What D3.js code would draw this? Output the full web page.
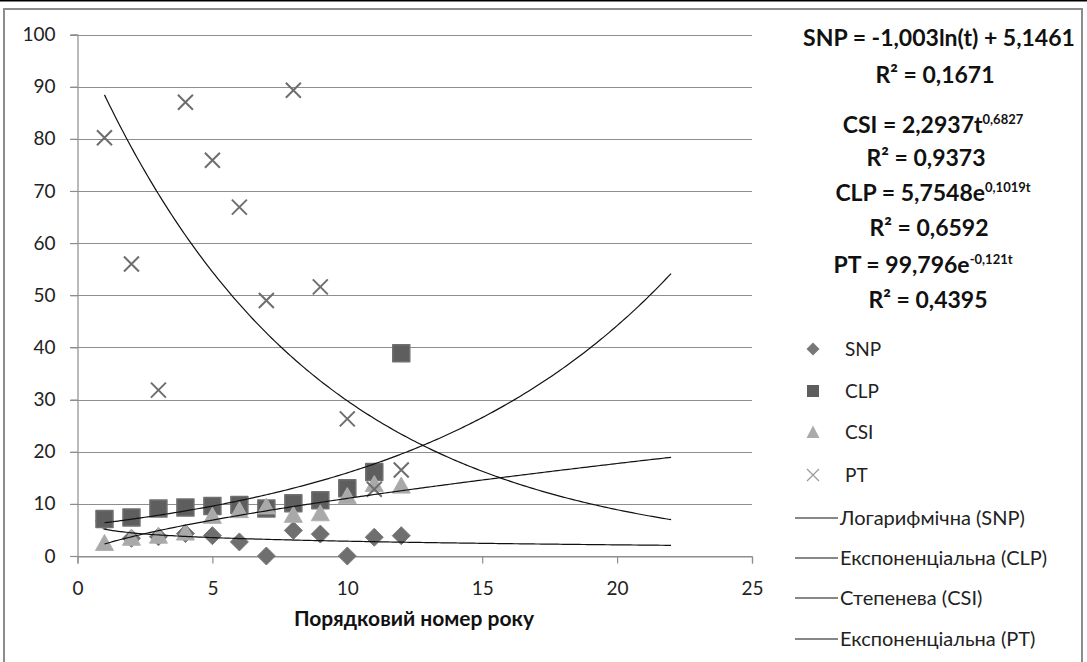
<!DOCTYPE html>
<html>
<head>
<meta charset="utf-8">
<script src="https://cdn.jsdelivr.net/npm/d3@7"></script>
<style>
  body { margin: 0; background: #fff; }
  svg { display: block; font-family: Lato, "Noto Sans", sans-serif; }
</style>
</head>
<body>
<div id="chart"></div>
<script>
// data
const years = [1, 2, 3, 4, 5, 6, 7, 8, 9, 10, 11, 12];
const snp = [6.7, 3.4, 3.7, 4.3, 3.9, 2.7, 0, 4.9, 4.2, 0, 3.6, 3.9];
const clp = [7.1, 7.4, 9.1, 9.3, 9.6, 9.8, 9.1, 10.1, 10.7, 13.0, 16.1, 38.9];
const csi = [2.4, 3.4, 3.8, 4.4, 7.6, 8.7, 9.4, 7.8, 8.1, 11.4, 13.7, 13.4];
const pt = [80.2, 56.0, 31.8, 87.0, 75.9, 66.9, 49.0, 89.3, 51.6, 26.3, 12.8, 16.5];

const xTicks = [0, 5, 10, 15, 20, 25];
const yTicks = [0, 10, 20, 30, 40, 50, 60, 70, 80, 90, 100];

// trendline coefficients as printed on the chart
const trendEnd = 22;
const snpLog = { a: -1.003, b: 5.1461 };
const csiPow = { a: 2.2937, b: 0.6827 };
const clpExp = { a: 5.7548, b: 0.1019 };
const ptExp = { a: 99.796, b: -0.121 };

const markerLabels = ['SNP', 'CLP', 'CSI', 'PT'];
const lineLabels = ['Логарифмічна (SNP)', 'Експоненціальна (CLP)', 'Степенева (CSI)', 'Експоненціальна (PT)'];

let width = 1087, height = 662;

let svg = d3.select('#chart').append('svg')
  .attr('width', width)
  .attr('height', height);

// outer frame
svg.append('line').attr('x1', 0).attr('x2', width).attr('y1', 0.5).attr('y2', 0.5)
  .style('stroke', '#000').style('stroke-width', 2);
svg.append('rect').attr('x', 4).attr('y', 9).attr('width', 1078).attr('height', 670)
  .style('fill', 'none').style('stroke', '#8c8c8c').style('stroke-width', 2);

let x = d3.scaleLinear().domain([0, 25]).range([77.5, 752]);
let y = d3.scaleLinear().domain([0, 100]).range([556, 34.5]);

// gridlines
svg.append('g')
  .selectAll('line')
  .data(yTicks)
  .enter()
  .append('line')
  .attr('x1', 70)
  .attr('x2', x(25))
  .attr('y1', d => Math.round(y(d)) + 0.5)
  .attr('y2', d => Math.round(y(d)) + 0.5)
  .style('stroke', '#8e8e8e')
  .style('stroke-width', 1.2);

// y axis
let yAxis = svg.append('g')
  .attr('transform', 'translate(' + x(0) + ',0)')
  .call(d3.axisLeft(y).tickValues(yTicks).tickSize(7).tickPadding(15));

// x axis
let xAxis = svg.append('g')
  .attr('transform', 'translate(0,' + (Math.round(y(0)) + 0.5) + ')')
  .call(d3.axisBottom(x).tickValues(xTicks).tickSize(7).tickPadding(18));

[yAxis, xAxis].forEach(function (ax) {
  ax.select('.domain').style('stroke', '#8e8e8e').style('stroke-width', 1.2);
  ax.selectAll('.tick line').style('stroke', '#8e8e8e').style('stroke-width', 1.2);
  ax.selectAll('.tick text')
    .style('font-family', 'Lato, "Noto Sans", sans-serif')
    .style('font-size', '19px')
    .style('fill', '#222');
});

svg.append('text')
  .attr('x', 414)
  .attr('y', 626)
  .attr('text-anchor', 'middle')
  .style('font-size', '21px')
  .style('font-weight', 'bold')
  .style('fill', '#111')
  .text('Порядковий номер року');

// markers
const diamond = 'M0,-9L9,0L0,9L-9,0Z';
const square = 'M-8.5,-8.5H8.5V8.5H-8.5Z';
const triangle = 'M0,-9L9,7L-9,7Z';
const cross = 'M-7.5,-7.5L7.5,7.5M-7.5,7.5L7.5,-7.5';

function drawSeries(values, shape, fill, stroke, sw) {
  svg.append('g')
    .selectAll('path')
    .data(values)
    .enter()
    .append('path')
    .attr('transform', (d, i) => 'translate(' + x(years[i]) + ',' + y(d) + ')')
    .attr('d', shape)
    .style('fill', fill)
    .style('stroke', stroke)
    .style('stroke-width', sw)
    .style('stroke-linejoin', 'round');
}

drawSeries(snp, diamond, '#6f6f6f', '#7a7a7a', 1);
drawSeries(clp, square, '#5e5e5e', '#707070', 1.5);
drawSeries(csi, triangle, '#a9a9a9', '#b0b0b0', 1);
drawSeries(pt, cross, 'none', '#6e6e6e', 2);

// trend lines
let ts = d3.range(1, trendEnd + 0.001, 0.1);
let line = d3.line().x(d => x(d[0])).y(d => y(d[1]));
let trends = [
  ts.map(t => [t, snpLog.a * Math.log(t) + snpLog.b]),
  ts.map(t => [t, clpExp.a * Math.exp(clpExp.b * t)]),
  ts.map(t => [t, csiPow.a * Math.pow(t, csiPow.b)]),
  ts.map(t => [t, ptExp.a * Math.exp(ptExp.b * t)])
];
svg.append('g')
  .selectAll('path')
  .data(trends)
  .enter()
  .append('path')
  .attr('d', line)
  .style('fill', 'none')
  .style('stroke', '#111')
  .style('stroke-width', 1.2);

// equations
let eq = svg.append('g')
  .style('font-weight', 'bold')
  .style('font-size', '23px')
  .style('fill', '#111')
  .attr('text-anchor', 'middle');

// main text, optional superscript
function eqLine(cx, cy, main, sup) {
  let t = eq.append('text').attr('x', cx).attr('y', cy);
  t.append('tspan').text(main);
  if (sup) {
    t.append('tspan').attr('dy', -9).style('font-size', '13px').text(sup);
  }
}

eqLine(939, 46, 'SNP = -1,003ln(t) + 5,1461');
eqLine(935, 83, 'R² = 0,1671');
eqLine(933, 133, 'CSI = 2,2937t', '0,6827');
eqLine(926, 166, 'R² = 0,9373');
eqLine(933, 201, 'CLP = 5,7548e', '0,1019t');
eqLine(929, 236, 'R² = 0,6592');
eqLine(923, 273, 'PT = 99,796e', '-0,121t');
eqLine(928, 308, 'R² = 0,4395');

// legend
let legend = svg.append('g').style('font-size', '19px').style('fill', '#222');
let legendMarkers = [
  { d: 'M0,-6.5L6.5,0L0,6.5L-6.5,0Z', fill: '#777', stroke: 'none' },
  { d: 'M-6,-6H6V6H-6Z', fill: '#5e5e5e', stroke: 'none' },
  { d: 'M0,-6.5L6.5,6L-6.5,6Z', fill: '#aaa', stroke: 'none' },
  { d: 'M-6,-6L6,6M-6,6L6,-6', fill: 'none', stroke: '#999' }
];
let markerY = [349, 391, 432, 475];
markerLabels.forEach(function (name, i) {
  legend.append('path')
    .attr('transform', 'translate(813,' + markerY[i] + ')')
    .attr('d', legendMarkers[i].d)
    .style('fill', legendMarkers[i].fill)
    .style('stroke', legendMarkers[i].stroke)
    .style('stroke-width', 1.2);
  legend.append('text')
    .attr('x', 845)
    .attr('y', markerY[i] + 7)
    .text(name);
});
let lineY = [518, 558, 598, 639];
lineLabels.forEach(function (name, i) {
  legend.append('line')
    .attr('x1', 795).attr('x2', 838)
    .attr('y1', lineY[i]).attr('y2', lineY[i])
    .style('stroke', '#111')
    .style('stroke-width', 1.2);
  legend.append('text')
    .attr('x', 840)
    .attr('y', lineY[i] + 7)
    .style('font-size', '20px')
    .text(name);
});
</script>
</body>
</html>
